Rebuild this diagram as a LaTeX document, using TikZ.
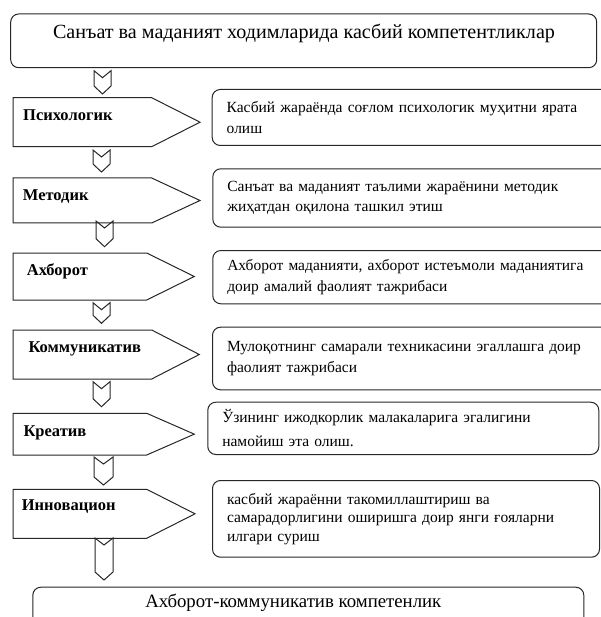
\documentclass[tikz,border=0pt]{standalone}
\usepackage{fontspec}
\setmainfont{Liberation Serif}

\begin{document}
\begin{tikzpicture}[x=1pt,y=-1pt]
    \tikzstyle{frame}=[draw=black!85,line width=1pt,rounded corners=8pt]
    \tikzstyle{desc}=[frame,anchor=north west,inner xsep=14.5pt,align=left,font=\fontsize{15.5}{20.5}\selectfont]
    \tikzstyle{lbl}=[anchor=west,inner sep=0pt,font=\fontsize{16.5}{19}\selectfont\bfseries]
    \tikzstyle{pent}=[draw=black!85,line width=1pt]
    \tikzstyle{chev}=[draw=black!85,line width=1pt,line join=miter]
    \useasboundingbox (0,0) rectangle (600,617);
    % top and bottom boxes
    \node[frame,minimum width=586pt,minimum height=53.7pt] (top) at (303.7,40.85) {};
    \node[font=\fontsize{20.1}{24}\selectfont] (toptxt) at (304,33) {Санъат ва маданият ходимларида касбий компетентликлар};
    \node[frame,anchor=north west,minimum width=551pt,minimum height=60pt] (bot) at (32.3,586.7) {};
    \node[font=\fontsize{18.8}{23}\selectfont] (bottxt) at (293.3,603) {Ахборот-коммуникатив компетенлик};
    % competences on the left
    \foreach \name/\txt/\t/\b/\s/\p/\lx/\ly in {
        psy/Психологик/97.7/146.7/151.7/200/23/115,
        met/Методик/178/223/151.7/200/22.7/196.7,
        inf/Ахборот/253/300/146.7/194.3/26.7/271.7,
        com/Коммуникатив/330/379/151.7/199.3/28.3/349,
        cre/Креатив/413.3/455/146.7/194.3/23.3/433,
        inn/Инновацион/489.3/538.3/146.7/195/21.7/506.7}
    {
        \draw[pent] (13,\t) -- (\s,\t) -- (\p,{(\t+\b)/2}) -- (\s,\b) -- (13,\b) -- cycle;
        \node[lbl] (\name) at (\lx,\ly) {\txt};
    }
    % descriptions on the right
    \node[desc,minimum width=420pt,minimum height=56pt,text width=391pt] (dpsy) at (211.7,89)
        {Касбий жараёнда соғлом психологик муҳитни ярата\\олиш};
    \node[desc,minimum width=420pt,minimum height=58.4pt,text width=391pt] (dmet) at (212.3,168.3)
        {Санъат ва маданият таълими жараёнини методик\\жиҳатдан оқилона ташкил этиш};
    \node[desc,minimum width=420pt,minimum height=53.3pt,text width=391pt] (dinf) at (212.3,250)
        {Ахборот маданияти, ахборот истеъмоли маданиятига\\доир амалий фаолият тажрибаси};
    \node[desc,minimum width=420pt,minimum height=62.6pt,text width=391pt] (dcom) at (212,326.7)
        {Мулоқотнинг самарали техникасини эгаллашга доир\\фаолият тажрибаси};
    \node[desc,minimum width=391pt,minimum height=52.3pt,text width=362pt,font=\fontsize{15.5}{24}\selectfont] (dcre) at (207.3,401.7)
        {Ўзининг ижодкорлик малакаларига эгалигини\\намойиш эта олиш.};
    \node[desc,minimum width=387pt,minimum height=76.7pt,text width=358pt,font=\fontsize{15.5}{18.5}\selectfont] (dinn) at (212,480)
        {касбий жараённи такомиллаштириш ва\\самарадорлигини оширишга доир янги ғояларни\\илгари суриш};
    % chevrons between the steps
    \foreach \x/\w/\t/\b in {94/17/70.7/94, 93/17/150/172, 96/17/221/246.7, 93/17/302.7/323.3,
                             93/17/381.7/406.7, 94/19/457/485, 95/18/538/580}
    {
        \draw[chev] (\x,\t) -- (\x,\b-8) -- (\x+\w/2,\b) -- (\x+\w,\b-8) -- (\x+\w,\t) -- (\x+\w/2,\t+7) -- cycle;
    }
\end{tikzpicture}
\end{document}
